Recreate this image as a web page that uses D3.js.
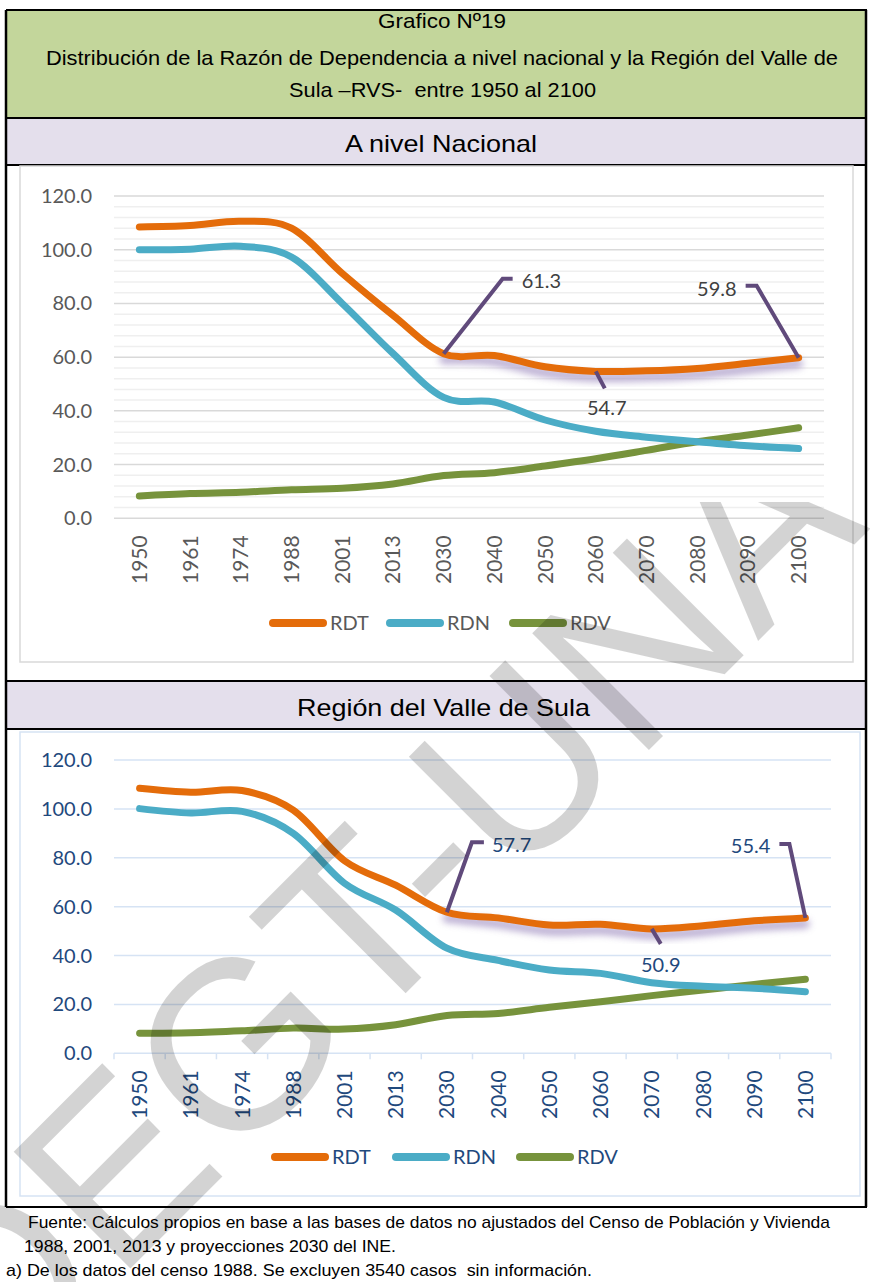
<!DOCTYPE html>
<html lang="es">
<head>
  <meta charset="UTF-8" />
  <title>Grafico Nº19 - Razón de Dependencia</title>
  <script src="https://d3js.org/d3.v7.min.js"></script>
  <style>
    body { margin: 0; background: #fff; }
    svg { display: block; }
    .hdr { font-family: "Liberation Sans Narrow", "Liberation Sans", Arial, sans-serif; fill: #000; }
    .lato { font-family: Lato, "Open Sans", sans-serif; }
  </style>
</head>
<body>
<svg width="870" height="1282"></svg>
<script>
  // Datos
  const years = ["1950", "1961", "1974", "1988", "2001", "2013", "2030", "2040", "2050", "2060", "2070", "2080", "2090", "2100"];
  const series = ["RDT", "RDN", "RDV"];
  const yTicks = [0, 20, 40, 60, 80, 100, 120];

  // A nivel Nacional
  const nacRDT = [108.5, 109.0, 110.6, 108.0, 91.2, 75.6, 61.3, 60.6, 56.4, 54.7, 54.9, 55.8, 57.7, 59.8];
  const nacRDN = [100.0, 100.2, 101.3, 97.3, 80.0, 61.4, 45.0, 43.3, 36.6, 32.4, 30.2, 28.5, 27.0, 26.0];
  const nacRDV = [8.3, 9.2, 9.7, 10.6, 11.2, 12.8, 15.9, 17.0, 19.5, 22.2, 25.3, 28.5, 31.0, 33.7];
  const nacLabels = [
    { year: "2030", value: 61.3, text: "61.3" },
    { year: "2060", value: 54.7, text: "54.7" },
    { year: "2100", value: 59.8, text: "59.8" }
  ];

  // Región del Valle de Sula
  const vsRDT = [108.4, 106.8, 107.5, 99.5, 78.8, 68.8, 57.7, 55.4, 52.5, 52.8, 50.9, 52.2, 54.2, 55.4];
  const vsRDN = [100.1, 98.3, 99.0, 90.0, 69.6, 58.6, 43.0, 38.0, 34.1, 32.7, 28.9, 27.4, 26.6, 25.2];
  const vsRDV = [8.2, 8.4, 9.2, 10.3, 9.9, 11.7, 15.5, 16.3, 18.8, 21.1, 23.6, 25.9, 28.2, 30.3];
  const vsLabels = [
    { year: "2030", value: 57.7, text: "57.7" },
    { year: "2070", value: 50.9, text: "50.9" },
    { year: "2100", value: 55.4, text: "55.4" }
  ];

  const color = d3.scaleOrdinal().domain(series).range(["#e46c0a", "#4bacc6", "#77933c"]);

  const svg = d3.select("svg");

  const defs = svg.append("defs");
  defs.append("filter").attr("id", "glow")
    .attr("x", "-10%").attr("y", "-50%").attr("width", "120%").attr("height", "200%")
    .append("feGaussianBlur").attr("stdDeviation", 3.5);
  defs.append("clipPath").attr("id", "wmclip")
    .append("rect").attr("x", 0).attr("y", 502).attr("width", 870).attr("height", 780);

  // Cuadro (tabla) del grafico
  svg.append("rect").attr("x", 6).attr("y", 10).attr("width", 860).attr("height", 108).attr("fill", "#c3d69b");
  svg.append("rect").attr("x", 6).attr("y", 118).attr("width", 860).attr("height", 47).attr("fill", "#e4dfec");
  svg.append("rect").attr("x", 6).attr("y", 681).attr("width", 860).attr("height", 48).attr("fill", "#e4dfec");

  [10, 118, 165, 681, 729, 1207].forEach(y => {
    svg.append("line").attr("x1", 6).attr("x2", 867).attr("y1", y).attr("y2", y)
      .attr("stroke", "#000").attr("stroke-width", 2);
  });
  [6, 866].forEach(x => {
    svg.append("line").attr("x1", x).attr("x2", x).attr("y1", 10).attr("y2", 1207)
      .attr("stroke", "#000").attr("stroke-width", 2.5);
  });

  function fitText(sel, w) {
    return sel.attr("textLength", w).attr("lengthAdjust", "spacingAndGlyphs");
  }

  // Titulos
  fitText(svg.append("text").attr("class", "hdr").attr("x", 378).attr("y", 28)
    .attr("font-size", 21).text("Grafico Nº19"), 128);
  fitText(svg.append("text").attr("class", "hdr").attr("x", 46).attr("y", 65)
    .attr("font-size", 21).text("Distribución de la Razón de Dependencia a nivel nacional y la Región del Valle de"), 792);
  fitText(svg.append("text").attr("class", "hdr").attr("x", 289).attr("y", 97)
    .attr("font-size", 21).attr("xml:space", "preserve").text("Sula –RVS-  entre 1950 al 2100"), 307);
  fitText(svg.append("text").attr("class", "hdr").attr("x", 345).attr("y", 152)
    .attr("font-size", 24).text("A nivel Nacional"), 192);
  fitText(svg.append("text").attr("class", "hdr").attr("x", 297).attr("y", 716)
    .attr("font-size", 24).text("Región del Valle de Sula"), 293);

  // Fuente
  fitText(svg.append("text").attr("class", "hdr").attr("x", 28).attr("y", 1228)
    .attr("font-size", 17).text("Fuente: Cálculos propios en base a las bases de datos no ajustados del Censo de Población y Vivienda"), 802);
  fitText(svg.append("text").attr("class", "hdr").attr("x", 24).attr("y", 1252)
    .attr("font-size", 17).text("1988, 2001, 2013 y proyecciones 2030 del INE."), 372);
  fitText(svg.append("text").attr("class", "hdr").attr("x", 6).attr("y", 1276)
    .attr("font-size", 17).attr("xml:space", "preserve").text("a) De los datos del censo 1988. Se excluyen 3540 casos  sin información."), 586);

  function drawChart(cfg) {
    const g = svg.append("g");

    // area del grafico
    g.append("rect").attr("x", cfg.box[0]).attr("y", cfg.box[1])
      .attr("width", cfg.box[2] - cfg.box[0]).attr("height", cfg.box[3] - cfg.box[1])
      .attr("fill", "#fff").attr("stroke", cfg.boxStroke).attr("stroke-width", 1.5);

    const x = d3.scalePoint().domain(years).range([cfg.left, cfg.right]).padding(0.5);
    const y = d3.scaleLinear().domain([0, 120]).range([cfg.bottom, cfg.top]);

    // lineas de division menores
    if (cfg.minor) {
      g.append("g").selectAll("line").data(d3.range(0, 121, 4).filter(v => v % 20 !== 0))
        .join("line")
        .attr("x1", cfg.left).attr("x2", cfg.right)
        .attr("y1", d => y(d)).attr("y2", d => y(d))
        .attr("stroke", "#efefef").attr("stroke-width", 1.5);
    }
    g.append("g").selectAll("line").data(yTicks).join("line")
      .attr("x1", cfg.left).attr("x2", cfg.right)
      .attr("y1", d => y(d)).attr("y2", d => y(d))
      .attr("stroke", cfg.grid).attr("stroke-width", 1.5);

    // eje X con marcas
    if (cfg.ticks) {
      const step = x.step();
      g.append("g").selectAll("line").data(d3.range(years.length + 1)).join("line")
        .attr("x1", i => cfg.left + i * step).attr("x2", i => cfg.left + i * step)
        .attr("y1", cfg.bottom).attr("y2", cfg.bottom + 6)
        .attr("stroke", cfg.grid).attr("stroke-width", 1.5);
    }

    // etiquetas eje Y
    g.append("g").selectAll("text").data(yTicks).join("text")
      .attr("class", "lato")
      .attr("x", cfg.left - 22).attr("y", d => y(d)).attr("dy", "0.35em")
      .attr("text-anchor", "end").attr("font-size", 20).attr("fill", cfg.textColor)
      .text(d => d3.format(".1f")(d));

    // etiquetas eje X
    g.append("g").selectAll("text").data(years).join("text")
      .attr("class", "lato")
      .attr("transform", d => `translate(${x(d)},${cfg.bottom + 17}) rotate(-90)`)
      .attr("dy", "0.36em").attr("text-anchor", "end")
      .attr("font-size", 21).attr("fill", cfg.textColor)
      .text(d => d);

    const line = d3.line()
      .x((d, i) => x(years[i]))
      .y(d => y(d))
      .curve(d3.curveCatmullRom.alpha(0));

    // sombra morada en RDT (2030-2100)
    const i0 = years.indexOf("2030");
    const shadowLine = d3.line()
      .x(d => x(d.year)).y(d => y(d.v))
      .curve(d3.curveCatmullRom.alpha(0));
    const shadowData = cfg.values.RDT.map((v, i) => ({ year: years[i], v })).slice(i0);
    g.append("path").attr("d", shadowLine(shadowData))
      .attr("transform", "translate(0,6)")
      .attr("fill", "none").attr("stroke", "#a594c4").attr("stroke-width", 9)
      .attr("stroke-linecap", "round").attr("opacity", 0.75)
      .attr("filter", "url(#glow)");

    series.slice().reverse().forEach(s => {
      g.append("path").attr("d", line(cfg.values[s]))
        .attr("fill", "none").attr("stroke", color(s)).attr("stroke-width", 7)
        .attr("stroke-linecap", "round").attr("stroke-linejoin", "round");
    });

    // etiquetas de datos con lineas guia
    cfg.labels.forEach((l, k) => {
      const px = x(l.year), py = y(l.value);
      const o = cfg.labelLayout[k];
      g.append("path")
        .attr("d", d3.line()(o.path.map(p => [px + p[0], py + p[1]])))
        .attr("fill", "none").attr("stroke", "#604a7b").attr("stroke-width", 4);
      g.append("text").attr("class", "lato")
        .attr("x", px + o.text[0]).attr("y", py + o.text[1]).attr("dy", "0.35em")
        .attr("text-anchor", o.anchor).attr("font-size", 20).attr("fill", cfg.labelColor)
        .text(l.text);
    });

    // leyenda
    cfg.legend.forEach((lx, i) => {
      const s = series[i];
      g.append("line").attr("x1", lx).attr("x2", lx + 50)
        .attr("y1", cfg.legendY).attr("y2", cfg.legendY)
        .attr("stroke", color(s)).attr("stroke-width", 8).attr("stroke-linecap", "round");
      g.append("text").attr("class", "lato")
        .attr("x", lx + 57).attr("y", cfg.legendY).attr("dy", "0.36em")
        .attr("font-size", 20).attr("fill", cfg.textColor).text(s);
    });
  }

  drawChart({
    box: [20, 166, 853, 662], boxStroke: "#d9d9d9",
    left: 114, right: 824, top: 196, bottom: 518.3,
    minor: true, ticks: false, grid: "#d9d9d9",
    textColor: "#595959", labelColor: "#404040",
    values: { RDT: nacRDT, RDN: nacRDN, RDV: nacRDV },
    labels: nacLabels,
    labelLayout: [
      { path: [[0, 0], [59, -75], [69, -75]], text: [78, -73], anchor: "start" },
      { path: [[0, 0], [9, 17]], text: [11, 37], anchor: "middle" },
      { path: [[0, 0], [-42, -72], [-53, -72]], text: [-62, -69], anchor: "end" }
    ],
    legend: [273, 390, 513], legendY: 623
  });

  drawChart({
    box: [20, 732, 860, 1196], boxStroke: "#d6e3f4",
    left: 114, right: 831, top: 760, bottom: 1053.3,
    minor: false, ticks: true, grid: "#d6e3f4",
    textColor: "#1f497d", labelColor: "#1f497d",
    values: { RDT: vsRDT, RDN: vsRDN, RDV: vsRDV },
    labels: vsLabels,
    labelLayout: [
      { path: [[0, 0], [25, -70], [37, -70]], text: [45, -67], anchor: "start" },
      { path: [[0, 0], [9, 15]], text: [9, 36], anchor: "middle" },
      { path: [[0, 0], [-16, -74], [-26, -74]], text: [-35, -72], anchor: "end" }
    ],
    legend: [275, 396, 520], legendY: 1157
  });

  // marca de agua (solo visible en la parte inferior)
  svg.append("g").attr("clip-path", "url(#wmclip)")
    .append("text")
    .attr("transform", "translate(-6,1405) rotate(-45)")
    .attr("font-family", "Liberation Sans, Arial, sans-serif")
    .attr("font-size", 240).attr("fill", "#000").attr("opacity", 0.17)
    .text("DEGT-UNAH");
</script>
</body>
</html>
